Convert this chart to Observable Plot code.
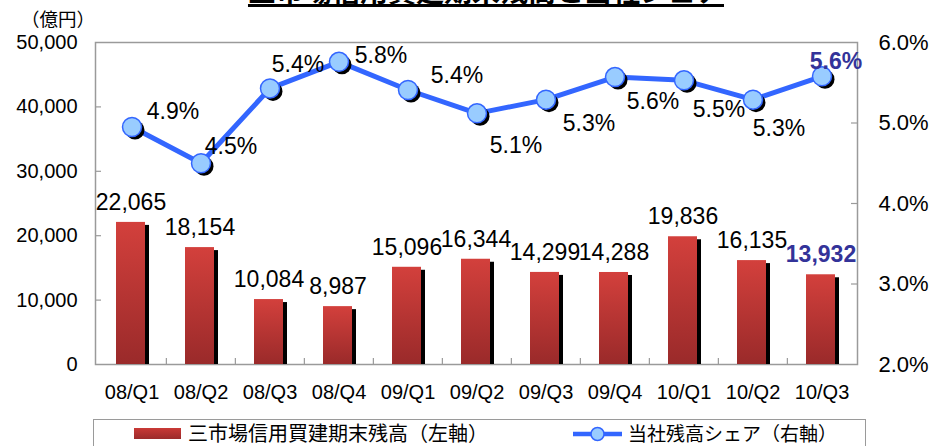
<!DOCTYPE html>
<html><head><meta charset="utf-8">
<script src="https://cdn.jsdelivr.net/npm/d3@7"></script>
<script src="https://cdn.jsdelivr.net/npm/@observablehq/plot@0.6"></script>
<style>
html,body{margin:0;padding:0;background:#fff;}
#wrap{position:relative;width:937px;height:446px;overflow:hidden;background:#fff;}
#chart{position:absolute;left:0;top:0;}
#title{position:absolute;left:136px;width:700px;top:-24px;text-align:center;font-family:"Noto Sans CJK JP",sans-serif;font-weight:bold;font-size:28px;line-height:28px;text-decoration:underline;text-decoration-thickness:3px;text-underline-offset:2px;color:#000;white-space:nowrap;}
#unit{position:absolute;left:21px;top:7px;font-family:"Noto Sans CJK JP",sans-serif;font-size:18.5px;line-height:22px;color:#000;white-space:nowrap;}
#legend{position:absolute;left:93px;top:419px;width:773px;height:60px;border:1px solid #9a9a9a;box-sizing:border-box;font-family:"Noto Sans CJK JP",sans-serif;font-size:20px;color:#000;}
#legend .sw{position:absolute;left:40px;top:8px;width:47px;height:11px;background:linear-gradient(#c93936,#9b2b2b);}
#legend .t{position:absolute;top:0px;line-height:25px;white-space:nowrap;}
#legend svg{position:absolute;left:478px;top:2px;}
</style></head><body>
<div id="wrap">
  <div id="chart"></div>
  <div id="title">三市場信用買建期末残高と当社シェア</div>
  <div id="unit">（億円）</div>
  <div id="legend">
    <span class="sw"></span><span class="t" style="left:94px">三市場信用買建期末残高（左軸）</span>
    <svg width="52" height="24"><line x1="1" y1="12" x2="50" y2="12" stroke="#3366ff" stroke-width="4.5"/><circle cx="25.5" cy="12" r="6.5" fill="#99ccff" stroke="#3366ff" stroke-width="1.5"/></svg>
    <span class="t" style="left:534px;font-size:19px">当社残高シェア（右軸）</span>
  </div>
</div>
<script>
const categories = ["08/Q1","08/Q2","08/Q3","08/Q4","09/Q1","09/Q2","09/Q3","09/Q4","10/Q1","10/Q2","10/Q3"];
const balance = [22065,18154,10084,8987,15096,16344,14299,14288,19836,16135,13932];
const share = [4.95,4.50,5.43,5.76,5.41,5.12,5.29,5.57,5.53,5.29,5.58];
const shareLabels = ["4.9%","4.5%","5.4%","5.8%","5.4%","5.1%","5.3%","5.6%","5.5%","5.3%","5.6%"];
const leftTicks = [0,10000,20000,30000,40000,50000];
const rightTicks = [2,3,4,5,6];

const leftMax = 50000, rightMin = 2, rightMax = 6;
const toLeft = p => (p - rightMin) / (rightMax - rightMin) * leftMax;
const fromLeft = v => v / leftMax * (rightMax - rightMin) + rightMin;

// label placement offsets (layout only)
const labelOffset = {
  "08/Q1":[41,-15], "08/Q2":[30,-17], "08/Q3":[28,-24], "08/Q4":[42,-6],
  "09/Q1":[49,-14], "09/Q2":[39,32], "09/Q3":[43,24], "09/Q4":[38,25],
  "10/Q1":[35,29], "10/Q2":[26,29], "10/Q3":[14,-15]
};

const rows = categories.map((c, i) => ({
  cat: c, balance: balance[i], share: share[i], shareY: toLeft(share[i]),
  label: shareLabels[i], last: i === categories.length - 1
}));

const W = 937, H = 410, mL = 95, mR = 80, mT = 42, mB = 46;
const innerW = W - mL - mR, innerH = H - mT - mB;
const bw = innerW / categories.length;
const font = '"Liberation Sans", Arial, sans-serif';
const gray = "#9a9a9a";
const accent = "#333399";
const fmt = d3.format(",");

const plot = Plot.plot({
  width: W, height: H,
  marginLeft: mL, marginRight: mR, marginTop: mT, marginBottom: mB,
  style: {fontFamily: font, color: "#000", background: "transparent", overflow: "visible"},
  x: {type: "band", domain: categories, padding: 0, label: null},
  y: {domain: [0, leftMax], label: null},
  marks: [
    Plot.frame({stroke: gray, strokeWidth: 1.5}),
    Plot.ruleY(leftTicks.slice(1, -1), {y: d => d, insetRight: innerW - 6, stroke: gray, strokeWidth: 1.2}),
    Plot.ruleY(rightTicks.slice(1, -1).map(toLeft), {y: d => d, insetLeft: innerW - 6, stroke: gray, strokeWidth: 1.2}),
    Plot.ruleX(categories.slice(1), {x: d => d, dx: -bw / 2, insetTop: innerH - 6, stroke: gray, strokeWidth: 1.2}),
    Plot.axisY(leftTicks, {anchor: "left", tickSize: 0, tickPadding: 18, tickFormat: fmt, fontSize: 20, label: null}),
    Plot.axisY(rightTicks.map(toLeft), {anchor: "right", tickSize: 0, tickPadding: 21, tickFormat: d => fromLeft(d).toFixed(1) + "%", fontSize: 22, label: null}),
    Plot.axisX({tickSize: 0, tickPadding: 20, fontSize: 20, label: null}),
    Plot.barY(rows, {x: "cat", y: "balance", fill: "#000", insetLeft: 19, insetRight: 21, dx: 4, dy: 3, clip: "frame"}),
    Plot.barY(rows, {x: "cat", y: "balance", fill: "url(#barGrad)", insetLeft: 19, insetRight: 21}),
    Plot.text(rows.filter(d => !d.last), {x: "cat", y: "balance", text: d => fmt(d.balance), dx: -1, dy: -20, fontSize: 23, fill: "#000"}),
    Plot.text(rows.filter(d => d.last), {x: "cat", y: "balance", text: d => fmt(d.balance), dx: -1, dy: -20, fontSize: 23, fill: accent, fontWeight: "bold"}),
    Plot.line(rows, {x: "cat", y: "shareY", stroke: "#3366ff", strokeWidth: 5}),
    Plot.dot(rows, {x: "cat", y: "shareY", r: 9.5, fill: "#000", dx: 3, dy: 3}),
    Plot.dot(rows, {x: "cat", y: "shareY", r: 9.5, fill: "#99ccff", stroke: "#3366ff", strokeWidth: 1.5}),
    ...rows.map(d => Plot.text([d], {
      x: "cat", y: "shareY", text: "label",
      dx: labelOffset[d.cat][0], dy: labelOffset[d.cat][1],
      fontSize: 23, fill: d.last ? accent : "#000", fontWeight: d.last ? "bold" : "normal"
    }))
  ]
});

const svg = d3.select(plot);
const grad = svg.insert("defs", ":first-child").append("linearGradient")
  .attr("id", "barGrad").attr("x1", 0).attr("y1", 0).attr("x2", 0).attr("y2", 1);
grad.append("stop").attr("offset", "0%").attr("stop-color", "#d3403c");
grad.append("stop").attr("offset", "100%").attr("stop-color", "#9a2a2a");

document.getElementById("chart").appendChild(plot);
</script>
</body></html>
